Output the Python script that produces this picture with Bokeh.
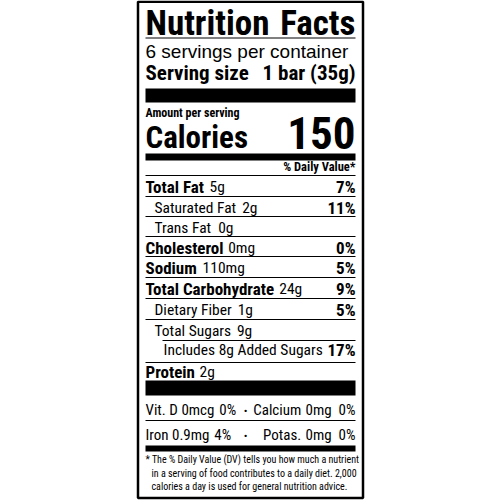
from bokeh.plotting import figure
from bokeh.models import Range1d
from bokeh.core.properties import value
from bokeh.embed import file_html
from bokeh.resources import INLINE

# ---------------- data ----------------
servings_per_container = 6
serving_size = "1 bar (35g)"
calories = 150

nutrients = ["Total Fat", "Saturated Fat", "Trans Fat", "Cholesterol", "Sodium",
             "Total Carbohydrate", "Dietary Fiber", "Total Sugars",
             "Includes 8g Added Sugars", "Protein"]
amounts = ["5g", "2g", "0g", "0mg", "110mg", "24g", "1g", "9g", "", "2g"]
daily_values = ["7%", "11%", "", "0%", "5%", "9%", "5%", "", "17%", ""]
indent_level = [0, 1, 1, 0, 0, 0, 1, 1, 2, 0]
is_bold = [True, False, False, True, True, True, False, False, False, True]

vit_left_names = ["Vit. D", "Iron"]
vit_left_amounts = ["0mcg", "0.9mg"]
vit_left_dv = ["0%", "4%"]
vit_right_names = ["Calcium", "Potas."]
vit_right_amounts = ["0mg", "0mg"]
vit_right_dv = ["0%", "0%"]

footnote = ["* The % Daily Value (DV) tells you how much a nutrient",
            "in a serving of food contributes to a daily diet. 2,000",
            "calories a day is used for general nutrition advice."]

# ---------------- helpers ----------------
COND = "Roboto Condensed"
WIDE = "Liberation Sans"

_bold_w = dict(zip(" %()*,.0123456789:", [278, 889, 333, 333, 389, 278, 278] + [556] * 10 + [333]))
_bold_w.update(dict(zip("ABCDEFGHIJKLMNOPQRSTUVWXYZ",
                        [722, 722, 722, 722, 667, 611, 778, 722, 278, 556, 722, 611, 833, 722, 778, 667, 778, 722, 667, 611, 722, 667, 944, 667, 667, 611])))
_bold_w.update(dict(zip("abcdefghijklmnopqrstuvwxyz",
                        [556, 611, 556, 611, 556, 333, 611, 611, 278, 278, 556, 278, 889, 611, 611, 611, 611, 389, 556, 333, 611, 556, 778, 556, 556, 500])))
_reg_w = dict(zip(" %()*,.0123456789:", [278, 889, 333, 333, 389, 278, 278] + [556] * 10 + [278]))
_reg_w.update(dict(zip("ABCDEFGHIJKLMNOPQRSTUVWXYZ",
                       [667, 667, 722, 722, 667, 611, 778, 722, 278, 500, 667, 556, 833, 722, 778, 667, 778, 722, 667, 611, 722, 667, 944, 667, 667, 611])))
_reg_w.update(dict(zip("abcdefghijklmnopqrstuvwxyz",
                       [556, 556, 500, 556, 556, 278, 556, 556, 222, 222, 500, 222, 833, 556, 556, 556, 556, 333, 500, 278, 556, 500, 722, 500, 500, 500])))


def tw(s, size, bold=False):
    table = _bold_w if bold else _reg_w
    factor = 0.82 if bold else 0.87
    return sum(table.get(c, 556) for c in s) / 1000.0 * size * factor


# ---------------- figure ----------------
W, H = 500, 500
p = figure(width=W, height=H, output_backend="svg", toolbar_location=None,
           x_range=Range1d(0, W), y_range=Range1d(H, 0), min_border=0)
p.axis.visible = False
p.grid.visible = False
p.outline_line_color = None
p.background_fill_color = "white"
p.border_fill_color = "white"

L, R = 145, 355
MID = 0.34  # vertical offset of the text anchor from the baseline, in em


def txt(x, base, s, size, bold=False, align="left", font=COND):
    p.text(x=[x], y=[base - MID * size], text=[s], text_font=value(font),
           text_font_size=value(f"{size}px"),
           text_font_style="bold" if bold else "normal", text_align=align,
           text_baseline="alphabetic", text_color="black")


def hline(y, x0=L, x1=R, w=1.0):
    p.segment(x0=[x0], y0=[y], x1=[x1], y1=[y], line_color="black", line_width=w)


def bar(y0, y1, x0=L, x1=R):
    p.quad(left=[x0], right=[x1], top=[y0], bottom=[y1], fill_color="black", line_color=None)


# outer border
p.quad(left=[137.5], right=[362.5], top=[1.2], bottom=[497.5], fill_color=None,
       line_color="black", line_width=2.5)

# header
txt(L, 35, "Nutrition", 35, bold=True)
txt(R, 35, "Facts", 35, bold=True, align="right")
hline(37.5)
txt(L, 57, f"{servings_per_container} servings per container", 19, font=WIDE)
txt(L, 80, "Serving size", 21, bold=True)
txt(R, 80, serving_size, 21, bold=True, align="right")
bar(88, 102)
txt(L, 117, "Amount per serving", 12, bold=True)
txt(L, 148, "Calories", 31, bold=True)
txt(R, 148, str(calories), 45, bold=True, align="right")
bar(153, 160)
txt(R, 170, "% Daily Value*", 12.5, bold=True, align="right")

# nutrient rows
sep_lines = [175, 196, 216, 236, 256, 277, 298, 319, 340, 362]
ROWB = 17
ROWR = 15.5
for i, name in enumerate(nutrients):
    top = sep_lines[i]
    x0 = L + 9 * indent_level[i]
    if indent_level[i] == 2:
        hline(top, x0=L + 17)
    else:
        hline(top)
    base = top + (17 if i < 8 else 15)
    name_size = ROWB if is_bold[i] else ROWR
    txt(x0, base, name, name_size, bold=is_bold[i])
    if amounts[i]:
        txt(x0 + tw(name, name_size, bold=is_bold[i]) + 6, base, amounts[i], ROWR)
    if daily_values[i]:
        txt(R, base, daily_values[i], ROWB, bold=True, align="right")

bar(380, 395)

# vitamins / minerals
VS = 15
vit_bases = [415, 440]
for j in range(2):
    b = vit_bases[j]
    x = L
    txt(x, b, vit_left_names[j], VS)
    x += tw(vit_left_names[j], VS) + 4
    txt(x, b, vit_left_amounts[j], VS)
    x += tw(vit_left_amounts[j], VS) + 6
    txt(x, b, vit_left_dv[j], VS)
    txt(245, b, "\u2022", 11, align="center")
    xr = R
    txt(xr, b, vit_right_dv[j], VS, align="right")
    xr -= tw(vit_right_dv[j], VS) + 5
    txt(xr, b, vit_right_amounts[j], VS, align="right")
    xr -= tw(vit_right_amounts[j], VS) + 5
    txt(xr, b, vit_right_names[j], VS, align="right")
hline(420)
bar(445, 451)

# footnote
foot_bases = [462, 476, 489]
for k, line in enumerate(footnote):
    txt(L if k == 0 else L + 6, foot_bases[k], line, 10)

open("out.html", "w").write(file_html(p, INLINE))
